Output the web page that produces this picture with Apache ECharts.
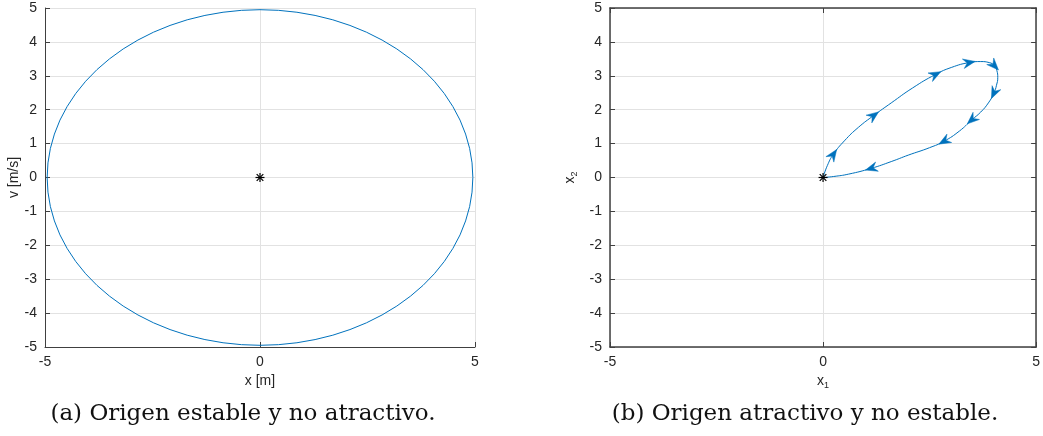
<!DOCTYPE html>
<html>
<head>
<meta charset="utf-8">
<script src="https://cdn.jsdelivr.net/npm/echarts@6/dist/echarts.min.js"></script>
<style>
html,body{margin:0;padding:0;background:#fff;}
#chart{width:1043px;height:436px;}
</style>
</head>
<body>
<div id="chart"></div>
<script>
// ---- data ----
var xTicksLabels = ['-5', '0', '5'];
var yTicksLabels = ['-5','-4','-3','-2','-1','0','1','2','3','4','5'];

// (a) closed orbit x [m], v [m/s]
var orbitA = [
  [4.95,0],[4.931,0.432],[4.875,0.859],[4.781,1.281],[4.652,1.693],[4.486,2.092],[4.287,2.475],
  [4.055,2.839],[3.792,3.182],[3.5,3.5],[3.182,3.792],[2.839,4.055],[2.475,4.287],[2.092,4.486],
  [1.693,4.652],[1.281,4.781],[0.859,4.875],[0.432,4.931],[0,4.95],
  [-0.432,4.931],[-0.859,4.875],[-1.281,4.781],[-1.693,4.652],[-2.092,4.486],[-2.475,4.287],
  [-2.839,4.055],[-3.182,3.792],[-3.5,3.5],[-3.792,3.182],[-4.055,2.839],[-4.287,2.475],
  [-4.486,2.092],[-4.652,1.693],[-4.781,1.281],[-4.875,0.859],[-4.931,0.432],[-4.95,0],
  [-4.931,-0.432],[-4.875,-0.859],[-4.781,-1.281],[-4.652,-1.693],[-4.486,-2.092],[-4.287,-2.475],
  [-4.055,-2.839],[-3.792,-3.182],[-3.5,-3.5],[-3.182,-3.792],[-2.839,-4.055],[-2.475,-4.287],
  [-2.092,-4.486],[-1.693,-4.652],[-1.281,-4.781],[-0.859,-4.875],[-0.432,-4.931],[0,-4.95],
  [0.432,-4.931],[0.859,-4.875],[1.281,-4.781],[1.693,-4.652],[2.092,-4.486],[2.475,-4.287],
  [2.839,-4.055],[3.182,-3.792],[3.5,-3.5],[3.792,-3.182],[4.055,-2.839],[4.287,-2.475],
  [4.486,-2.092],[4.652,-1.693],[4.781,-1.281],[4.875,-0.859],[4.931,-0.432],[4.95,0]
];

// (b) trajectory x1, x2
var trajB = [
  [0,0],[0.1,0.35],[0.24,0.68],[0.5,1.08],[0.83,1.48],[1.19,1.83],[1.6,2.2],
  [2.1,2.64],[2.64,3.04],[3.02,3.25],[3.43,3.39],[3.7,3.42],[3.9,3.39],
  [4.02,3.30],[4.08,3.15],[4.1,2.95],[4.07,2.72],[4.01,2.49],[3.88,2.2],[3.7,1.93],
  [3.49,1.70],[3.2,1.37],[2.84,1.07],[2.5,0.88],[2.0,0.66],[1.6,0.47],
  [1.13,0.27],[0.6,0.1],[0.25,0.03],[0,0]
];
// indices of trajB where arrowheads sit
var arrowIdx = [2,5,8,10,13,17,20,22,26];

var origin = [[0,0]];

var blue = '#0072BD';
var axisCol = '#404040';
var gridCol = '#e2e2e2';
var txtCol = '#262626';
var font = 'Liberation Sans';

function xAxisCfg(gi, name, box, gap) {
  return {
    type:'value', gridIndex:gi, min:-5, max:5, interval:5,
    name:name, nameLocation:'middle', nameGap:gap,
    nameTextStyle:{color:txtCol, fontFamily:font, fontSize:14,
      rich:{sub:{fontSize:9, verticalAlign:'bottom', padding:[9,0,0,0], color:txtCol, fontFamily:font}}},
    axisLine:{onZero:false, lineStyle:{color:axisCol, width:box?1.5:1}},
    axisTick:{inside:true, length:5, lineStyle:{color:axisCol}},
    axisLabel:{color:txtCol, fontFamily:font, fontSize:14, margin:8,
      formatter:function(v){return String(v);}},
    splitLine:{show:true, lineStyle:{color:gridCol, width:1}}
  };
}
function yAxisCfg(gi, name, box, gap) {
  return {
    type:'value', gridIndex:gi, min:-5, max:5, interval:1,
    name:name, nameLocation:'middle', nameGap:gap, nameRotate:90,
    nameTextStyle:{color:txtCol, fontFamily:font, fontSize:14,
      rich:{sub:{fontSize:9, verticalAlign:'bottom', padding:[9,0,0,0], color:txtCol, fontFamily:font}}},
    axisLine:{onZero:false, lineStyle:{color:axisCol, width:box?1.5:1}},
    axisTick:{inside:true, length:5, lineStyle:{color:axisCol}},
    axisLabel:{color:txtCol, fontFamily:font, fontSize:14, margin:8,
      formatter:function(v){return String(v);}},
    splitLine:{show:true, lineStyle:{color:gridCol, width:1}}
  };
}

var xA = xAxisCfg(0, 'x [m]', false, 27);
var yA = yAxisCfg(0, 'v [m/s]', false, 23);
var xB = xAxisCfg(1, '{n|x}{sub|1}', true, 25);
xB.nameTextStyle.rich.n = {fontSize:14, color:txtCol, fontFamily:font};
var yB = yAxisCfg(1, '{n|x}{sub|2}', true, 31);
yB.nameTextStyle.rich.n = {fontSize:14, color:txtCol, fontFamily:font};

var xBtop = {type:'value', gridIndex:1, position:'top', min:-5, max:5, interval:5,
  axisLine:{onZero:false, lineStyle:{color:axisCol, width:1.5}},
  axisTick:{inside:true, length:5, lineStyle:{color:axisCol}},
  axisLabel:{show:false}, splitLine:{show:false}};
var yBright = {type:'value', gridIndex:1, position:'right', min:-5, max:5, interval:1,
  axisLine:{onZero:false, lineStyle:{color:axisCol, width:1.5}},
  axisTick:{inside:true, length:5, lineStyle:{color:axisCol}},
  axisLabel:{show:false}, splitLine:{show:false}};

function starRender(params, api) {
  var p = api.coord([api.value(0), api.value(1)]);
  var r = 4.5, d = 3.3;
  var st = {stroke:'#000', lineWidth:1.2};
  return {type:'group', children:[
    {type:'line', shape:{x1:p[0]-r,y1:p[1],x2:p[0]+r,y2:p[1]}, style:st},
    {type:'line', shape:{x1:p[0],y1:p[1]-r,x2:p[0],y2:p[1]+r}, style:st},
    {type:'line', shape:{x1:p[0]-d,y1:p[1]-d,x2:p[0]+d,y2:p[1]+d}, style:st},
    {type:'line', shape:{x1:p[0]-d,y1:p[1]+d,x2:p[0]+d,y2:p[1]-d}, style:st}
  ]};
}

var arrowData = arrowIdx.map(function(i){
  return [trajB[i][0], trajB[i][1], trajB[i-1][0], trajB[i-1][1], trajB[i+1][0], trajB[i+1][1]];
});

function arrowRender(params, api) {
  var p = api.coord([api.value(0), api.value(1)]);
  var a = api.coord([api.value(2), api.value(3)]);
  var b = api.coord([api.value(4), api.value(5)]);
  var ang = Math.atan2(b[1]-a[1], b[0]-a[0]);
  var c = Math.cos(ang), s = Math.sin(ang);
  var L = 12, W = 4.8, N = 8;
  function tr(x, y){ return [p[0] + x*c - y*s, p[1] + x*s + y*c]; }
  var pts = [tr(L/2,0), tr(L/2-L,-W), tr(L/2-N,0), tr(L/2-L,W)];
  return {type:'polygon', shape:{points:pts}, style:{fill:blue, stroke:blue, lineWidth:0.5}};
}

var capStyle = {fontFamily:'DejaVu Serif', fontWeight:'normal', fontSize:23, color:'#111'};

var option = {
  animation:false,
  backgroundColor:'#fff',
  title:[
    {text:'(a) Origen estable y no atractivo.', left:238, top:398, textAlign:'center', textStyle:capStyle},
    {text:'(b) Origen atractivo y no estable.', left:800, top:398, textAlign:'center', textStyle:capStyle}
  ],
  grid:[
    {left:45, top:8, width:430, height:339, containLabel:false},
    {left:610, top:8, width:429, height:339, containLabel:false}
  ],
  xAxis:[xA, xB, xBtop],
  yAxis:[yA, yB, yBright],
  series:[
    {type:'line', xAxisIndex:0, yAxisIndex:0, data:orbitA, smooth:false, showSymbol:false,
     lineStyle:{color:blue, width:1}, silent:true},
    {type:'custom', xAxisIndex:0, yAxisIndex:0, data:origin, renderItem:starRender, z:5},
    {type:'line', xAxisIndex:1, yAxisIndex:1, data:trajB, smooth:0.5, showSymbol:false,
     lineStyle:{color:blue, width:1}, silent:true},
    {type:'custom', xAxisIndex:1, yAxisIndex:1, data:arrowData, renderItem:arrowRender, z:4,
     encode:{x:0, y:1}},
    {type:'custom', xAxisIndex:1, yAxisIndex:1, data:origin, renderItem:starRender, z:5}
  ]
};

var chart = echarts.init(document.getElementById('chart'), null, {renderer:'canvas'});
chart.setOption(option);
</script>
</body>
</html>
